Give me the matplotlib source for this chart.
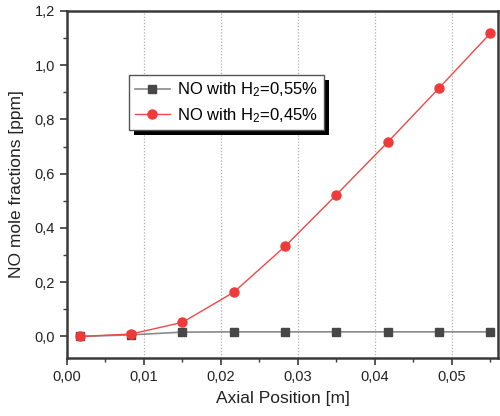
import matplotlib
matplotlib.use('Agg')
import matplotlib.pyplot as plt
from matplotlib.patches import Rectangle
from matplotlib.ticker import MultipleLocator, FuncFormatter

# axial positions (m) and NO mole fractions (ppm)
pos = [0.00167, 0.00833, 0.0150, 0.02167, 0.02833, 0.0350, 0.04167, 0.04833, 0.0550]
no_055 = [0.000, 0.006, 0.016, 0.017, 0.017, 0.017, 0.017, 0.017, 0.017]
no_045 = [0.000, 0.009, 0.052, 0.163, 0.332, 0.522, 0.716, 0.915, 1.117]
labels = ['NO with H$_2$=0,55%', 'NO with H$_2$=0,45%']

plt.rcParams['font.family'] = ['Liberation Sans', 'DejaVu Sans']
plt.rcParams['mathtext.fontset'] = 'custom'
plt.rcParams['mathtext.rm'] = 'Liberation Sans'
plt.rcParams['mathtext.it'] = 'Liberation Sans'

fig = plt.figure(figsize=(5.0, 4.16), dpi=100)
ax = fig.add_axes([0.134, 0.139, 0.862, 0.835])

spine_c = '#3a3a3a'
ax.plot(pos, no_055, color='#8a8a8a', lw=1.2, marker='s', ms=5.5,
        mfc='#474747', mec='#474747', label=labels[0], zorder=3)
ax.plot(pos, no_045, color='#f04848', lw=1.0, marker='o', ms=6.5,
        mfc='#f03a3a', mec='#f03a3a', label=labels[1], zorder=4)

ax.set_xlim(0, 0.056)
ax.set_ylim(-0.08, 1.2)
ax.xaxis.set_major_locator(MultipleLocator(0.01))
ax.xaxis.set_minor_locator(MultipleLocator(0.005))
ax.yaxis.set_major_locator(MultipleLocator(0.2))
ax.yaxis.set_minor_locator(MultipleLocator(0.1))
ax.xaxis.set_major_formatter(FuncFormatter(lambda v, p: f'{v:.2f}'.replace('.', ',')))
ax.yaxis.set_major_formatter(FuncFormatter(lambda v, p: f'{v:.1f}'.replace('.', ',')))

ax.grid(axis='x', which='major', color='#b0b0b0', ls=(0, (1, 1.5)), lw=0.9)
ax.set_axisbelow(True)

for s in ax.spines.values():
    s.set_color(spine_c)
    s.set_linewidth(1.8)
ax.tick_params(which='both', direction='out', colors=spine_c, labelcolor='#222222',
               labelsize=10.5, top=False, right=False)
ax.tick_params(which='major', length=5, width=1.2)
ax.tick_params(which='minor', length=3, width=1.0)

ax.set_xlabel('Axial Position [m]', fontsize=12.5, color='#222222', labelpad=5)
ax.set_ylabel('NO mole fractions [ppm]', fontsize=12.5, color='#222222', labelpad=8)

leg = ax.legend(loc='upper left', bbox_to_anchor=(0.144, 0.816), borderaxespad=0,
                fancybox=False, framealpha=1, edgecolor='#555555', fontsize=12,
                handlelength=2.1, handletextpad=0.4, borderpad=0.35, labelspacing=0.4)
leg.get_frame().set_linewidth(1.0)
leg.set_zorder(10)

# solid black drop shadow under the legend box
fig.canvas.draw()
bb = leg.get_window_extent()
ax.add_patch(Rectangle((bb.x0 + 5, bb.y0 - 5), bb.width, bb.height,
                       transform=None, facecolor='black', edgecolor='none',
                       zorder=9, clip_on=False))

fig.savefig('out.png', dpi=100)
